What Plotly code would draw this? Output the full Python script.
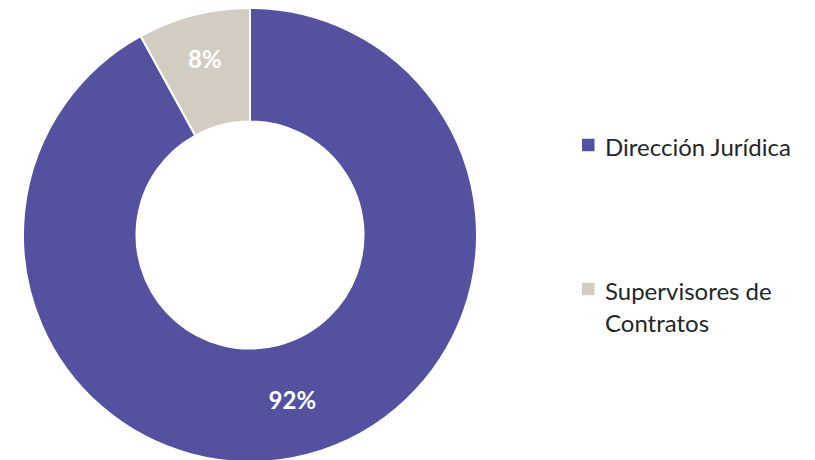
import textwrap
import plotly.graph_objects as go

labels = ["Dirección Jurídica", "Supervisores de Contratos"]
values = [92, 8]
colors = ["#5351A0", "#D3CCC2"]

W, H = 815, 460
FONT = "Lato"

# pie placement (figure pixels)
cx, cy, r = 242, 227, 227
fig = go.Figure(go.Pie(
    labels=labels,
    values=values,
    hole=0.5,
    sort=False,
    direction="clockwise",
    rotation=0,
    marker=dict(colors=colors, line=dict(color="white", width=2)),
    texttemplate="%{percent:.0%}",
    textposition="inside",
    insidetextorientation="horizontal",
    textfont=dict(family=FONT, size=24, color="white", weight="bold"),
    domain=dict(x=[(cx - r) / W, (cx + r) / W], y=[1 - (cy + r) / H, 1 - (cy - r) / H]),
    showlegend=False,
    hoverinfo="label+percent",
))

# custom legend
legend_rows = [138, 282]  # px from top, centre of first line
line_gap = 32
sq = 12.5
shapes, annotations = [], []
for lab, col, yc in zip(labels, colors, legend_rows):
    shapes.append(dict(type="rect", xref="paper", yref="paper",
                       x0=574 / W, x1=(574 + sq) / W,
                       y0=1 - (yc + sq / 2 - 1) / H, y1=1 - (yc - sq / 2 - 1) / H,
                       fillcolor=col, line=dict(width=0)))
    for i, line in enumerate(textwrap.wrap(lab, width=18)):
        annotations.append(dict(xref="paper", yref="paper", x=595 / W,
                                y=1 - (yc + i * line_gap) / H,
                                xanchor="left", yanchor="middle", showarrow=False,
                                text=line,
                                font=dict(family=FONT, size=24, color="#262626")))

fig.update_layout(
    width=W, height=H,
    margin=dict(l=0, r=0, t=0, b=0),
    paper_bgcolor="white",
    plot_bgcolor="white",
    shapes=shapes,
    annotations=annotations,
)

fig.write_html("out.html")
